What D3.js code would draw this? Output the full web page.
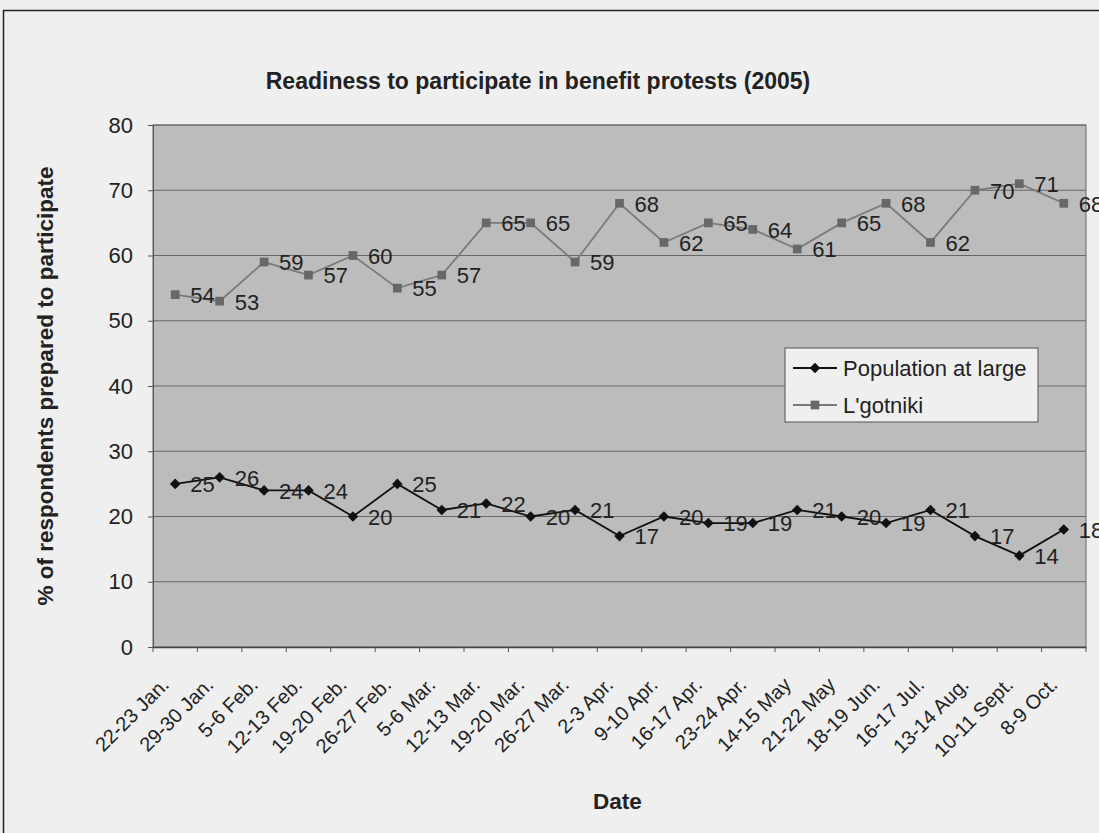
<!DOCTYPE html>
<html>
<head>
<meta charset="utf-8">
<script src="https://cdn.jsdelivr.net/npm/d3@7"></script>
<style>
  body { margin: 0; background: #efefef; }
  svg { display: block; font-family: "Liberation Sans", Arial, sans-serif; }
</style>
</head>
<body>
<svg id="chart" width="1099" height="833"></svg>
<script>
// ── Data ──────────────────────────────────────────────────────────────────────
const dates = [
  "22-23 Jan.", "29-30 Jan.", "5-6 Feb.", "12-13 Feb.", "19-20 Feb.", "26-27 Feb.",
  "5-6 Mar.", "12-13 Mar.", "19-20 Mar.", "26-27 Mar.", "2-3 Apr.", "9-10 Apr.",
  "16-17 Apr.", "23-24 Apr.", "14-15 May", "21-22 May", "18-19 Jun.", "16-17 Jul.",
  "13-14 Aug.", "10-11 Sept.", "8-9 Oct.",
];
const population = [25, 26, 24, 24, 20, 25, 21, 22, 20, 21, 17, 20, 19, 19, 21, 20, 19, 21, 17, 14, 18];
const lgotniki = [54, 53, 59, 57, 60, 55, 57, 65, 65, 59, 68, 62, 65, 64, 61, 65, 68, 62, 70, 71, 68];
const yTicks = [0, 10, 20, 30, 40, 50, 60, 70, 80];

const diamond = { draw: (ctx, size) => { const r = Math.sqrt(size) / 2 * 1.25;
  ctx.moveTo(0, -r); ctx.lineTo(r, 0); ctx.lineTo(0, r); ctx.lineTo(-r, 0); ctx.closePath(); } };

const series = [
  { name: "Population at large", values: population, line: "#111", marker: "#111", shape: diamond, size: 72 },
  { name: "L'gotniki", values: lgotniki, line: "#7a7a7a", marker: "#686868", shape: d3.symbolSquare, size: 76 },
];

// ── Layout ────────────────────────────────────────────────────────────────────
const svg = d3.select("#chart");
const plot = { left: 153, top: 125, right: 1086, bottom: 647 };

// outer frame (runs off the right/bottom edge)
svg.append("rect")
  .attr("x", 3.5).attr("y", 10.5)
  .attr("width", 1200).attr("height", 900)
  .attr("fill", "#efefef").attr("stroke", "#222").attr("stroke-width", 1.5);

const x = d3.scaleBand().domain(dates).range([plot.left, plot.right]);
const y = d3.scaleLinear().domain([0, 80]).range([plot.bottom, plot.top]);
const cx = (i) => x(dates[i]) + x.bandwidth() / 2;

// plot area
svg.append("rect")
  .attr("x", plot.left).attr("y", plot.top)
  .attr("width", plot.right - plot.left).attr("height", plot.bottom - plot.top)
  .attr("fill", "#bcbcbc").attr("stroke", "#666").attr("stroke-width", 1);

// gridlines
svg.append("g")
  .selectAll("line")
  .data(yTicks.filter((t) => t > 0))
  .join("line")
  .attr("x1", plot.left).attr("x2", plot.right)
  .attr("y1", (d) => y(d)).attr("y2", (d) => y(d))
  .attr("stroke", "#666").attr("stroke-width", 1);

// y axis
const yAxis = svg.append("g")
  .attr("transform", `translate(${plot.left},0)`)
  .call(d3.axisLeft(y).tickValues(yTicks).tickSize(5).tickPadding(15));
yAxis.select(".domain").attr("stroke", "#555");
yAxis.selectAll(".tick line").attr("stroke", "#555");
yAxis.selectAll("text")
  .attr("font-size", 22).attr("fill", "#222")
  .attr("font-family", "Liberation Sans, Arial, sans-serif");

// x axis
const xAxis = svg.append("g")
  .attr("transform", `translate(0,${plot.bottom})`)
  .call(d3.axisBottom(x).tickSize(0).tickFormat(""));
xAxis.select(".domain").attr("stroke", "#444").attr("stroke-width", 1.5);
// category boundary ticks
svg.append("g")
  .selectAll("line")
  .data(d3.range(dates.length + 1))
  .join("line")
  .attr("x1", (i) => plot.left + i * x.step())
  .attr("x2", (i) => plot.left + i * x.step())
  .attr("y1", plot.bottom).attr("y2", plot.bottom + 5)
  .attr("stroke", "#555");

svg.append("g")
  .selectAll("text")
  .data(dates)
  .join("text")
  .attr("transform", (d, i) => `translate(${cx(i) - 5},${plot.bottom + 39}) rotate(-45)`)
  .attr("text-anchor", "end")
  .attr("font-size", 20)
  .attr("fill", "#222")
  .text((d) => d);

// ── Lines, markers, labels ────────────────────────────────────────────────────
const line = d3.line().x((d, i) => cx(i)).y((d) => y(d));

series.slice().reverse().forEach((s) => {
  const g = svg.append("g");
  g.append("path")
    .attr("d", line(s.values))
    .attr("fill", "none")
    .attr("stroke", s.line)
    .attr("stroke-width", 1.8);
  g.selectAll("path.m")
    .data(s.values)
    .join("path")
    .attr("class", "m")
    .attr("transform", (d, i) => `translate(${cx(i)},${y(d)})`)
    .attr("d", d3.symbol().type(s.shape).size(s.size))
    .attr("fill", s.marker);
  g.selectAll("text")
    .data(s.values)
    .join("text")
    .attr("x", (d, i) => cx(i) + 15)
    .attr("y", (d) => y(d))
    .attr("dy", "0.38em")
    .attr("font-size", 22)
    .attr("fill", "#222")
    .text((d) => d);
});

// ── Legend ────────────────────────────────────────────────────────────────────
const legend = svg.append("g").attr("transform", "translate(785,348)");
legend.append("rect")
  .attr("width", 253).attr("height", 74)
  .attr("fill", "#efefef").attr("stroke", "#555").attr("stroke-width", 1);
series.forEach((s, i) => {
  const ly = 20 + i * 37;
  legend.append("line")
    .attr("x1", 8).attr("x2", 52).attr("y1", ly).attr("y2", ly)
    .attr("stroke", s.line).attr("stroke-width", 1.8);
  legend.append("path")
    .attr("transform", `translate(30,${ly})`)
    .attr("d", d3.symbol().type(s.shape).size(s.size))
    .attr("fill", s.marker);
  legend.append("text")
    .attr("x", 58).attr("y", ly).attr("dy", "0.36em")
    .attr("font-size", 22).attr("fill", "#222")
    .text(s.name);
});

// ── Titles ────────────────────────────────────────────────────────────────────
svg.append("text")
  .attr("x", 538).attr("y", 81).attr("dy", "0.36em")
  .attr("text-anchor", "middle")
  .attr("font-size", 23).attr("font-weight", "bold").attr("fill", "#222")
  .text("Readiness to participate in benefit protests (2005)");

svg.append("text")
  .attr("transform", "translate(45,386) rotate(-90)")
  .attr("dy", "0.36em")
  .attr("text-anchor", "middle")
  .attr("font-size", 22.5).attr("font-weight", "bold").attr("fill", "#222")
  .text("% of respondents prepared to participate");

svg.append("text")
  .attr("x", (plot.left + plot.right) / 2 - 2).attr("y", 801).attr("dy", "0.36em")
  .attr("text-anchor", "middle")
  .attr("font-size", 22.5).attr("font-weight", "bold").attr("fill", "#222")
  .text("Date");
</script>
</body>
</html>
